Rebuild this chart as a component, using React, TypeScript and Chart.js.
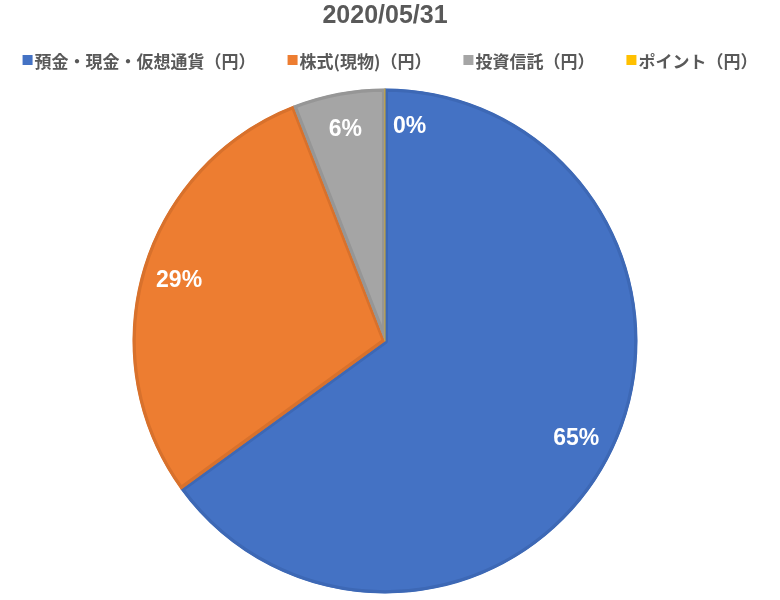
import { useEffect, useRef } from "react";
import { Chart, registerables } from "chart.js";

Chart.register(...registerables);

const chartTitle = "2020/05/31";
const categories = [
  "預金・現金・仮想通貨（円）",
  "株式(現物)（円）",
  "投資信託（円）",
  "ポイント（円）",
];
const shares = [65.0, 29.1, 5.9, 0.004];
const fillColors = ["#4472C4", "#ED7D31", "#A5A5A5", "#FFC000"];
const edgeColors = ["#3D68B5", "#D8712C", "#969696", "#E8AF00"];

const textGrey = "#595959";
const latinFamily = '"Liberation Sans", Arial, sans-serif';
const labelFont = `bold 23px ${latinFamily}`;
const legendFont = 'bold 17px "Noto Sans CJK JP", sans-serif';

// percentage labels inside each slice
const sliceLabels = {
  id: "sliceLabels",
  afterDatasetsDraw(chart: any) {
    const { ctx } = chart;
    const meta = chart.getDatasetMeta(0);
    const data = chart.data.datasets[0].data as number[];
    const total = data.reduce((a, b) => a + b, 0);
    ctx.save();
    ctx.font = labelFont;
    ctx.fillStyle = "#ffffff";
    ctx.textBaseline = "middle";
    meta.data.forEach((arc: any, i: number) => {
      const { x, y, startAngle, endAngle, outerRadius } = arc.getProps(
        ["x", "y", "startAngle", "endAngle", "outerRadius"],
        true
      );
      const frac = data[i] / total;
      const mid = (startAngle + endAngle) / 2;
      const r = outerRadius * 0.85;
      let tx = x + Math.cos(mid) * r;
      const ty = y + Math.sin(mid) * r;
      // tiny slices get pushed aside so they don't sit on the neighbour
      const tiny = frac < 0.01;
      ctx.textAlign = tiny ? "left" : "center";
      if (tiny) tx += 8;
      ctx.fillText(`${Math.round(frac * 100)}%`, tx, ty);
    });
    ctx.restore();
  },
};

// legend row between title and pie, with wide gaps like the original
const topLegend = {
  id: "topLegend",
  afterDraw(chart: any) {
    const { ctx, width, chartArea } = chart;
    const box = 10;
    const boxGap = 2;
    const itemGap = 32;
    ctx.save();
    ctx.font = legendFont;
    const widths = categories.map((t) => ctx.measureText(t).width);
    const total =
      widths.reduce((s, w) => s + box + boxGap + w, 0) +
      itemGap * (categories.length - 1);
    let x = (width - total) / 2;
    const y = chartArea.top - 27;
    ctx.textBaseline = "middle";
    ctx.textAlign = "left";
    categories.forEach((t, i) => {
      ctx.fillStyle = fillColors[i];
      ctx.fillRect(x, y - box / 2 - 1.5, box, box);
      ctx.fillStyle = textGrey;
      ctx.fillText(t, x + box + boxGap, y);
      x += box + boxGap + widths[i] + itemGap;
    });
    ctx.restore();
  },
};

export default function App() {
  const chartRef = useRef<HTMLCanvasElement>(null);

  useEffect(() => {
    if (!chartRef.current) return;
    const chart = new Chart(chartRef.current, {
      type: "pie",
      data: {
        labels: categories,
        datasets: [
          {
            data: shares,
            backgroundColor: fillColors,
            borderColor: edgeColors,
            borderWidth: 3,
            borderAlign: "inner",
          },
        ],
      },
      options: {
        animation: false,
        responsive: true,
        maintainAspectRatio: false,
        layout: { padding: { right: 10, bottom: 6.5 } },
        plugins: {
          legend: { display: false },
          tooltip: { enabled: false },
          title: {
            display: true,
            text: chartTitle,
            color: textGrey,
            font: { size: 25, weight: "bold", family: latinFamily },
            padding: { top: 1, bottom: 57.5 },
          },
        },
      },
      plugins: [sliceLabels, topLegend],
    });

    return () => {
      chart.destroy();
    };
  }, []);

  return (
    <div
      style={{
        position: "absolute",
        left: 0,
        top: 0,
        width: 780,
        height: 600,
        background: "#ffffff",
      }}
    >
      <canvas ref={chartRef} />
    </div>
  );
}
